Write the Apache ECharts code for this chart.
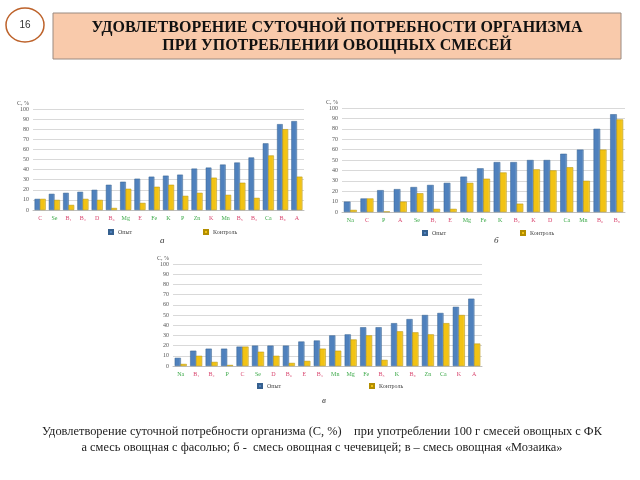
<!doctype html>
<html>
<head>
  <meta charset="utf-8">
  <title>Удовлетворение суточной потребности</title>
  <script src="https://cdn.jsdelivr.net/npm/echarts@6/dist/echarts.min.js"></script>
  <style>
    html, body { margin: 0; padding: 0; background: #fff; }
    #main { width: 640px; height: 480px; }
  </style>
</head>
<body>
<div id="main"></div>
<script>
// ---- data ----
// v = витамин (красная подпись), m = минерал (зелёная подпись)
var catsA = ['C', 'Se', 'B₁', 'B₂', 'D', 'B₆', 'Mg', 'E', 'Fe', 'K', 'P', 'Zn', 'K', 'Mn', 'B₅', 'B₃', 'Ca', 'B₉', 'A'];
var kindA = ['v', 'm', 'v', 'v', 'v', 'v', 'm', 'v', 'm', 'm', 'm', 'm', 'v', 'm', 'v', 'v', 'm', 'v', 'v'];
var opytA = [11, 16, 17, 18, 20, 25, 28, 31, 33, 34, 35, 41, 42, 45, 47, 52, 66, 85, 88];
var kontrA = [11, 10, 5, 11, 10, 2, 21, 7, 23, 25, 14, 17, 32, 15, 27, 12, 54, 80, 33];

var catsB = ['Na', 'C', 'P', 'A', 'Se', 'B₁', 'E', 'Mg', 'Fe', 'K', 'B₂', 'K', 'D', 'Ca', 'Mn', 'B₆', 'B₉'];
var kindB = ['m', 'v', 'm', 'v', 'm', 'v', 'v', 'm', 'm', 'm', 'v', 'v', 'v', 'm', 'm', 'v', 'v'];
var opytB = [10, 13, 21, 22, 24, 26, 28, 34, 42, 48, 48, 50, 50, 56, 60, 80, 94];
var kontrB = [2, 13, 0.5, 10, 18, 3, 3, 28, 32, 38, 8, 41, 40, 43, 30, 60, 89];

var catsV = ['Na', 'B₁', 'B₂', 'P', 'C', 'Se', 'D', 'B₆', 'E', 'B₃', 'Mn', 'Mg', 'Fe', 'B₅', 'K', 'B₉', 'Zn', 'Ca', 'K', 'A'];
var kindV = ['m', 'v', 'v', 'm', 'v', 'm', 'v', 'v', 'v', 'v', 'm', 'm', 'm', 'v', 'm', 'v', 'm', 'm', 'v', 'v'];
var opytV = [8, 15, 17, 17, 19, 20, 20, 20, 24, 25, 30, 31, 38, 38, 42, 46, 50, 52, 58, 66];
var kontrV = [2, 10, 4, 1, 19, 14, 10, 3, 5, 17, 15, 26, 30, 6, 34, 33, 31, 42, 50, 22];

var titleLines = ['УДОВЛЕТВОРЕНИЕ СУТОЧНОЙ ПОТРЕБНОСТИ ОРГАНИЗМА', 'ПРИ УПОТРЕБЛЕНИИ ОВОЩНЫХ СМЕСЕЙ'];
var captionLines = [
  'Удовлетворение суточной потребности организма (С, %)    при употреблении 100 г смесей овощных с ФК',
  'а смесь овощная с фасолью; б -  смесь овощная с чечевицей; в – смесь овощная «Мозаика»'
];

// ---- chart ----
var SERIF = '"Liberation Serif", "DejaVu Serif", serif';
var BLUE = '#4F81BD', YELLOW = '#F2C314';
var vitColor = '#D9466F', minColor = '#3DAA4A';

var panels = [
  { cats: catsA, kind: kindA, opyt: opytA, kontr: kontrA, left: 33, right: 336, top: 109, bottom: 270,
    legLeft: [103, 198], legTop: 224, letter: 'а', lx: 160, ly: 236 },
  { cats: catsB, kind: kindB, opyt: opytB, kontr: kontrB, left: 342, right: 15, top: 108, bottom: 268,
    legLeft: [417, 515], legTop: 225, letter: 'б', lx: 494, ly: 236 },
  { cats: catsV, kind: kindV, opyt: opytV, kontr: kontrV, left: 173, right: 158, top: 264, bottom: 114,
    legLeft: [252, 364], legTop: 378, letter: 'в', lx: 322, ly: 396 }
];

function barColor(c) {
  return new echarts.graphic.LinearGradient(0, 0, 1, 0, [
    { offset: 0, color: c }, { offset: 0.7, color: c },
    { offset: 1, color: echarts.color.lift(c, 0.3) }
  ]);
}

var grid = [], xAxis = [], yAxis = [], series = [], legend = [], graphic = [];

panels.forEach(function (p, i) {
  grid.push({ left: p.left, right: p.right, top: p.top, bottom: p.bottom });
  xAxis.push({
    type: 'category', gridIndex: i,
    data: p.cats.map(function (c, j) {
      return { value: c, textStyle: { color: p.kind[j] === 'v' ? vitColor : minColor } };
    }),
    axisLine: { lineStyle: { color: '#bfbfbf' } },
    axisTick: { show: false },
    axisLabel: { fontSize: 6, fontFamily: SERIF, margin: 5, interval: 0 }
  });
  yAxis.push({
    type: 'value', gridIndex: i, min: 0, max: 100, interval: 10,
    name: 'C, %', nameLocation: 'end', nameGap: -4,
    nameTextStyle: { fontSize: 6, fontFamily: SERIF, color: '#555', align: 'right', padding: [0, 4, 0, 0] },
    axisLine: { show: false }, axisTick: { show: false },
    axisLabel: { fontSize: 6, fontFamily: SERIF, color: '#555', margin: 4 },
    splitLine: { lineStyle: { color: '#d9d9d9', width: 1 } }
  });
  series.push({
    name: 'Опыт', type: 'bar', xAxisIndex: i, yAxisIndex: i, data: p.opyt,
    barGap: '-5%', barCategoryGap: '22%',
    itemStyle: { color: barColor(BLUE), borderColor: '#35608f', borderWidth: 0.5 }
  });
  series.push({
    name: 'Контроль', type: 'bar', xAxisIndex: i, yAxisIndex: i, data: p.kontr,
    barGap: '-5%', barCategoryGap: '22%',
    itemStyle: { color: barColor(YELLOW), borderColor: '#b38e00', borderWidth: 0.5 }
  });
  legend.push({ data: ['Опыт'], left: p.legLeft[0], top: p.legTop, itemWidth: 4, itemHeight: 4, icon: 'rect',
    textStyle: { fontSize: 6, fontFamily: SERIF, color: '#444' }, selectedMode: false });
  legend.push({ data: ['Контроль'], left: p.legLeft[1], top: p.legTop, itemWidth: 4, itemHeight: 4, icon: 'rect',
    textStyle: { fontSize: 6, fontFamily: SERIF, color: '#444' }, selectedMode: false });
  graphic.push({ type: 'text', left: p.lx, top: p.ly,
    style: { text: p.letter, font: 'italic 9px ' + SERIF, fill: '#333' } });
});

// header
graphic.push({ type: 'ellipse', shape: { cx: 25, cy: 25, rx: 19, ry: 17 },
  style: { fill: '#fff', stroke: '#bd622a', lineWidth: 1.5 } });
graphic.push({ type: 'text', x: 25, y: 25,
  style: { text: '16', font: '10px "Liberation Sans", sans-serif', fill: '#333', align: 'center', verticalAlign: 'middle' } });
graphic.push({ type: 'rect', shape: { x: 53, y: 13, width: 568, height: 46 },
  style: { fill: '#F9CAAB', stroke: '#9a8a80', lineWidth: 1 } });
graphic.push({ type: 'text', x: 337, y: 28,
  style: { text: titleLines[0], font: 'bold 16px ' + SERIF, fill: '#111', align: 'center', verticalAlign: 'middle' } });
graphic.push({ type: 'text', x: 337, y: 46,
  style: { text: titleLines[1], font: 'bold 16px ' + SERIF, fill: '#111', align: 'center', verticalAlign: 'middle' } });

// caption
graphic.push({ type: 'text', x: 322, y: 432,
  style: { text: captionLines[0], font: '12.4px ' + SERIF, fill: '#222', align: 'center', verticalAlign: 'middle' } });
graphic.push({ type: 'text', x: 322, y: 448,
  style: { text: captionLines[1], font: '12.4px ' + SERIF, fill: '#222', align: 'center', verticalAlign: 'middle' } });

var myChart = echarts.init(document.getElementById('main'), null, { renderer: 'canvas' });
myChart.setOption({
  animation: false,
  backgroundColor: '#fff',
  color: [BLUE, YELLOW],
  grid: grid, xAxis: xAxis, yAxis: yAxis, series: series, legend: legend, graphic: graphic
});
</script>
</body>
</html>
